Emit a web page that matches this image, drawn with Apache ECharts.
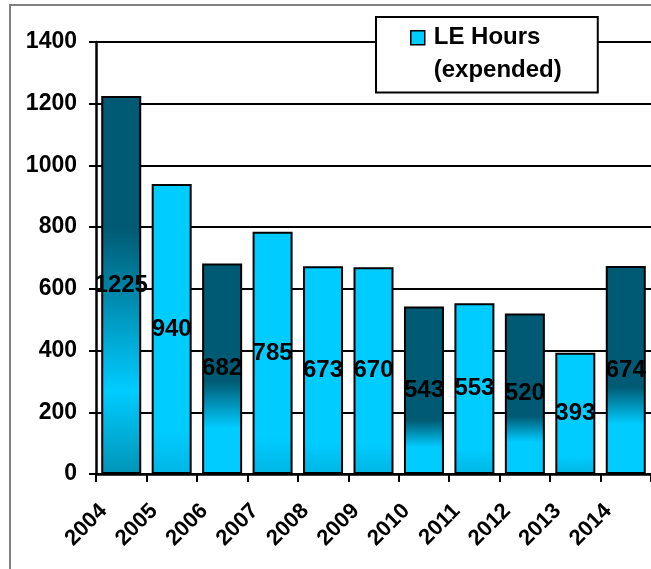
<!DOCTYPE html>
<html>
<head>
<meta charset="utf-8">
<script src="https://cdn.jsdelivr.net/npm/echarts@6/dist/echarts.min.js"></script>
<style>
  html, body { margin: 0; padding: 0; background: #fff; }
  #chart { width: 651px; height: 569px; }
</style>
</head>
<body>
<div id="chart"></div>
<script>
// data
const years = ['2004', '2005', '2006', '2007', '2008', '2009', '2010', '2011', '2012', '2013', '2014'];
const hours = [1225, 940, 682, 785, 673, 670, 543, 553, 520, 393, 674];
const seriesName = 'LE Hours (expended)';

const FONT = '"Liberation Sans", Arial, sans-serif';
const DARK = '#005A73';
const CYAN = '#00CCFF';

// gradient stops (top -> bottom) for the dark highlighted bars
const darkFill = {
    '2004': [[0, DARK], [0.35, DARK], [0.78, CYAN], [1, '#0094B6']],
    '2006': [[0, DARK], [0.56, DARK], [0.78, CYAN], [1, CYAN]],
    '2010': [[0, DARK], [0.68, DARK], [0.84, CYAN], [1, CYAN]],
    '2012': [[0, DARK], [0.64, DARK], [0.80, CYAN], [1, CYAN]],
    '2014': [[0, DARK], [0.58, DARK], [0.76, CYAN], [1, CYAN]]
};
const plainFill = [[0, CYAN], [0.85, CYAN], [1, '#00B6E4']];

function fillFor (year) {
    const stops = darkFill[year] || plainFill;
    return new echarts.graphic.LinearGradient(0, 0, 0, 1,
        stops.map(s => ({ offset: s[0], color: s[1] })));
}

const chart = echarts.init(document.getElementById('chart'));

chart.setOption({
    animation: false,
    backgroundColor: '#fff',
    graphic: [{
        type: 'rect',
        z: -10,
        shape: { x: 10, y: 5, width: 700, height: 700 },
        style: { fill: 'none', stroke: '#808080', lineWidth: 2 }
    }],
    legend: {
        left: 376,
        top: 17,
        padding: [3, 36, 5, 34],
        backgroundColor: '#fff',
        borderColor: '#000',
        borderWidth: 2,
        // square sits on the first text line; extra moveTo points size the box
        icon: 'path://M0,0 M0,10 H14 V24 H0 Z M18,66',
        itemWidth: 18,
        itemHeight: 66,
        itemStyle: { color: CYAN, borderColor: '#000', borderWidth: 1.5 },
        formatter: () => 'LE Hours\n(expended)',
        textStyle: {
            fontFamily: FONT,
            fontWeight: 'bold',
            fontSize: 24,
            lineHeight: 33,
            color: '#000'
        },
        data: [seriesName]
    },
    grid: {
        left: 96,
        top: 42,
        width: 557,
        bottom: 95
    },
    xAxis: {
        type: 'category',
        data: years,
        axisLine: { lineStyle: { color: '#000', width: 2.5 } },
        axisTick: { show: true, length: 8, lineStyle: { color: '#000', width: 2 } },
        axisLabel: {
            rotate: 45,
            interval: 0,
            margin: 16,
            // pushes each label down-left so it ends near the category's left tick
            padding: [0, 25, 0, 0],
            fontFamily: FONT,
            fontWeight: 'bold',
            fontSize: 22,
            color: '#000'
        }
    },
    yAxis: {
        type: 'value',
        min: 0,
        max: 1400,
        interval: 200,
        axisLine: { show: true, lineStyle: { color: '#000', width: 2.5 } },
        axisTick: { show: true, length: 7, lineStyle: { color: '#000', width: 2 } },
        splitLine: { lineStyle: { color: '#000', width: 2 } },
        axisLabel: {
            margin: 19,
            formatter: v => String(v),
            fontFamily: FONT,
            fontWeight: 'bold',
            fontSize: 23,
            color: '#000'
        }
    },
    series: [{
        name: seriesName,
        type: 'bar',
        barWidth: 40,
        itemStyle: { color: CYAN, borderColor: '#000', borderWidth: 2 },
        label: {
            show: true,
            position: 'inside',
            fontFamily: FONT,
            fontWeight: 'bold',
            fontSize: 24,
            color: '#000'
        },
        data: hours.map((v, i) => ({
            value: v,
            itemStyle: { color: fillFor(years[i]) }
        }))
    }]
});
</script>
</body>
</html>
